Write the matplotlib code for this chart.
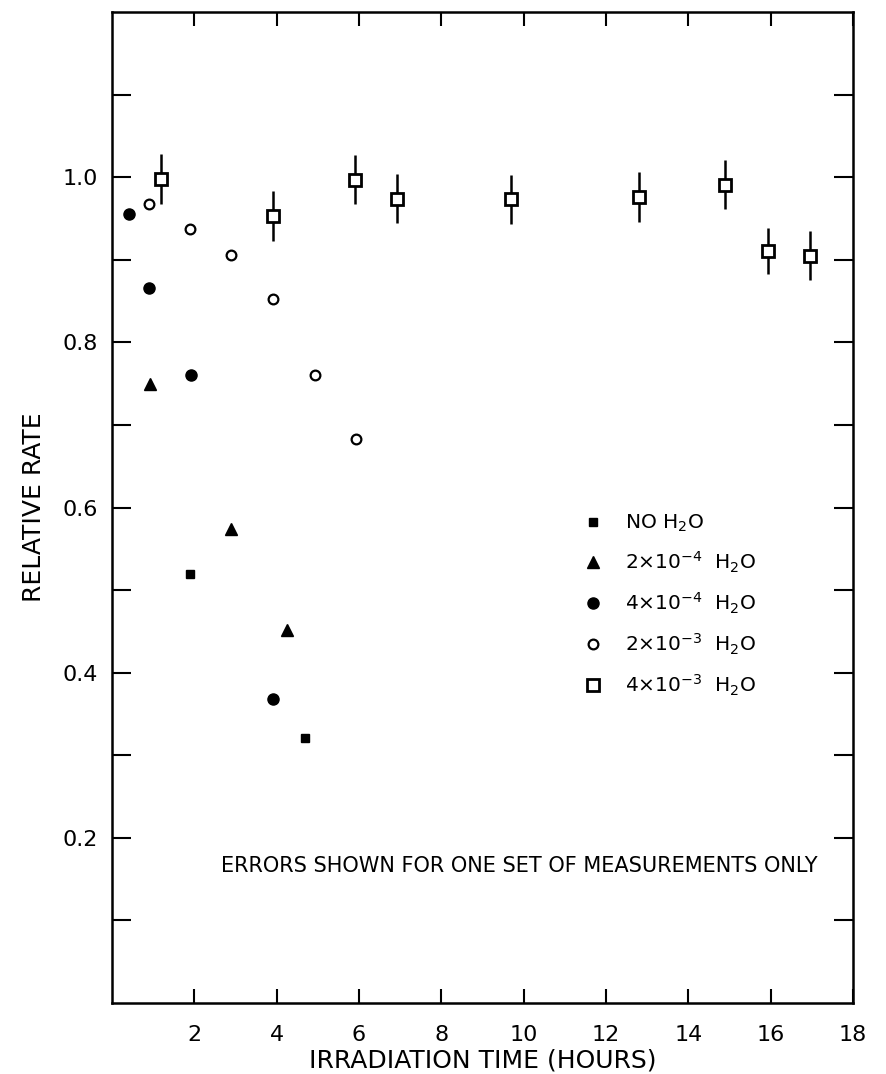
import numpy as np
import matplotlib
matplotlib.use("Agg")
import matplotlib.pyplot as plt

plt.rcParams['font.family'] = ['DejaVu Sans']

# irradiation time (hours) and relative rate for each water content
no_x = [1.9, 4.7]
no_y = [0.519, 0.321]
a_x = [0.92, 2.9, 4.25]          # 2e-4
a_y = [0.750, 0.574, 0.452]
b_x = [0.41, 0.9, 1.93, 3.92]    # 4e-4
b_y = [0.956, 0.866, 0.761, 0.368]
c_x = [0.9, 1.89, 2.9, 3.92, 4.92, 5.93]   # 2e-3
c_y = [0.968, 0.937, 0.906, 0.853, 0.761, 0.683]
d_x = [1.18, 3.9, 5.91, 6.92, 9.68, 12.81, 14.89, 15.93, 16.95]  # 4e-3
d_y = [0.998, 0.953, 0.997, 0.974, 0.973, 0.976, 0.991, 0.911, 0.905]
d_err = [0.03, 0.03, 0.03, 0.03, 0.03, 0.03, 0.03, 0.028, 0.03]

labels = ["NO H$_2$O", r"2$\times$10$^{-4}$  H$_2$O", r"4$\times$10$^{-4}$  H$_2$O",
          r"2$\times$10$^{-3}$  H$_2$O", r"4$\times$10$^{-3}$  H$_2$O"]

fig = plt.figure(figsize=(8.86, 10.74), dpi=100)
ax = fig.add_axes([0.1264, 0.0661, 0.8364, 0.9227])

ax.plot(no_x, no_y, 's', color='black', ms=6, label=labels[0])
ax.plot(a_x, a_y, '^', color='black', ms=9, label=labels[1])
ax.plot(b_x, b_y, 'o', color='black', ms=8, label=labels[2])
ax.plot(c_x, c_y, 'o', mfc='white', mec='black', mew=1.6, ms=7, label=labels[3])
ax.errorbar(d_x, d_y, yerr=d_err, fmt='none', ecolor='black', elinewidth=1.8,
            capsize=0)
ax.plot(d_x, d_y, 's', mfc='white', mec='black', mew=2, ms=9, label=labels[4])

ax.set_xlim(0, 18)
ax.set_ylim(0, 1.2)
ax.set_xticks(np.arange(2, 19, 2))
ax.set_yticks(np.arange(0.1, 1.15, 0.1), minor=True)
ax.set_yticks([0.2, 0.4, 0.6, 0.8, 1.0])
ax.set_yticklabels(["0.2", "0.4", "0.6", "0.8", "1.0"])
ax.tick_params(axis='x', direction='in', length=10, width=1.5, top=True,
               labelsize=16, pad=16)
ax.tick_params(axis='y', which='both', direction='in', length=14, width=1.5,
               right=True, labelsize=16, pad=10)
for s in ax.spines.values():
    s.set_linewidth(1.8)

ax.set_xlabel("IRRADIATION TIME (HOURS)", fontsize=18, labelpad=2)
ax.set_ylabel("RELATIVE RATE", fontsize=18, labelpad=12)

ax.text(9.9, 0.166, "ERRORS SHOWN FOR ONE SET OF MEASUREMENTS ONLY",
        fontsize=15, ha='center', va='center')

leg = ax.legend(loc='upper left', bbox_to_anchor=(0.611, 0.513), frameon=False,
                fontsize=14.5, handletextpad=1.1, labelspacing=0.78,
                handlelength=1.0, numpoints=1)

fig.savefig("out.png", dpi=100)
